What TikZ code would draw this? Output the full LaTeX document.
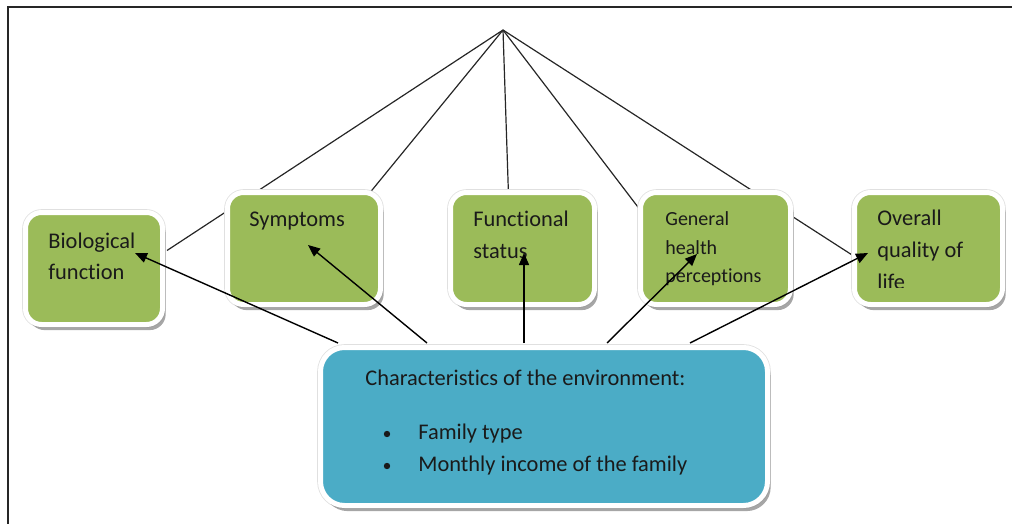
\documentclass[tikz,border=0pt]{standalone}
\usepackage{fontspec}
\setmainfont{Carlito}[Ligatures=NoCommon]
\usetikzlibrary{arrows.meta,calc,fit,shadows}
\pgfdeclarelayer{bg}
\pgfsetlayers{bg,main}
\definecolor{boxgreen}{HTML}{9BBB59}
\definecolor{boxblue}{HTML}{4BACC6}
\definecolor{txt}{HTML}{1A1A1A}
\begin{document}
\begin{tikzpicture}[x=0.5pt,y=-0.5pt,
  gbox/.style={rounded corners=8pt, fill=boxgreen, draw=white, line width=2.5pt, inner sep=0pt,
    preaction={draw=black!12, line width=3.3pt},
    drop shadow={shadow xshift=1.6pt, shadow yshift=-2.8pt, fill=black!50, opacity=0.7}},
  bbox/.style={gbox, fill=boxblue, rounded corners=12pt},
  lbl/.style={anchor=base west, inner sep=0pt, text=txt, font=\fontsize{11.2pt}{13pt}\selectfont},
  slbl/.style={lbl, font=\fontsize{10pt}{12pt}\selectfont},
  tie/.style={line width=0.6pt, black!85},
  arr/.style={-{Triangle[length=6pt,width=5pt]}, line width=0.7pt, black}]
\useasboundingbox (0,0) rectangle (1012,524);
\draw[line width=1.3pt, black!85] (8,530) -- (8,7) -- (1020,7);

% boxes
\node[gbox, fit={(25.5,212.5)(162.5,324.5)}] (bio) {};
\node[gbox, fit={(227.5,192.5)(380.5,304.5)}] (sym) {};
\node[gbox, fit={(450.5,192.5)(594.5,304.5)}] (fun) {};
\node[gbox, fit={(640.5,192.5)(790.5,304.5)}] (gen) {};
\node[gbox, fit={(854.5,192.5)(1002.5,304.5)}] (ove) {};
\node[bbox, fit={(320.5,347.5)(767.5,505.5)}] (env) {};

\coordinate (apex) at (503,30);

% lines from apex (behind boxes)
\begin{pgfonlayer}{bg}
\draw[tie] (apex) -- ($(bio.east)+(2,-18)$);
\draw[tie] (apex) -- ($(sym.north)+(64,5)$);
\draw[tie] (apex) -- ($(fun.north)+(-14,5)$);
\draw[tie] (apex) -- ($(gen.north west)+(6,25)$);
\draw[tie] (apex) -- ($(ove.west)+(4,9)$);
\end{pgfonlayer}

% texts
\node[lbl] (bio1) at (48,248) {Biological};
\node[lbl] (bio2) at (48,279) {function};
\node[lbl] (sym1) at (249,227) {Symptoms};
\node[lbl] (fun1) at (473,227) {Functional};
\node[lbl] (fun2) at (473,258) {status};
\node[slbl] (gen1) at (665,225) {General};
\node[slbl] (gen2) at (665,254) {health};
\node[slbl] (gen3) at (665,282) {perceptions};
\node[lbl] (ove1) at (877,225) {Overall};
\node[lbl] (ove2) at (877,257) {quality of};
\begin{scope}
\clip (850,262) rectangle (1005,287);
\node[lbl] (ove3) at (877,289) {life};
\end{scope}
\node[lbl] (env1) at (365,385) {Characteristics of the environment:};
\node[lbl] (env2) at (418,439) {Family type};
\node[lbl] (env3) at (418,471) {Monthly income of the family};
\fill[txt] (387,434) circle (3.2);
\fill[txt] (387,466) circle (3.2);

% arrows
\draw[arr] ($(env.north)+(-206,-2)$) -- ($(bio.center)+(41,-15.5)$);
\draw[arr] ($(env.north)+(-117,-2)$) -- ($(sym.center)+(4,-3.5)$);
\draw[arr] ($(env.north)+(-20,-2)$) -- ($(fun.center)+(1.5,4.5)$);
\draw[arr] ($(env.north)+(63,-2)$) -- ($(gen.center)+(-18.5,5.5)$);
\draw[arr] ($(env.north)+(146,-2)$) -- ($(ove.center)+(-60.5,4.5)$);
\end{tikzpicture}
\end{document}
